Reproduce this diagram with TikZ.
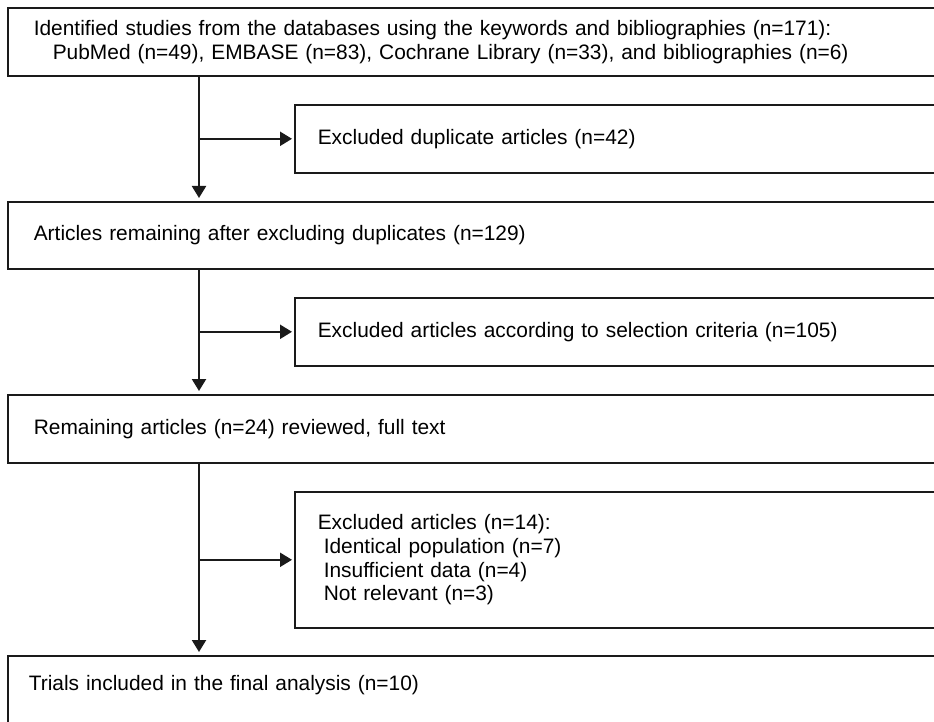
\documentclass[tikz,border=0pt]{standalone}
\usepackage{fontspec}
\setmainfont{Liberation Sans}
\usetikzlibrary{arrows.meta,positioning}
\definecolor{Ink}{HTML}{1A1A1A}
\tikzset{
  stagebox/.style={draw=Ink,line width=1.6pt,anchor=north west,align=left,inner xsep=26pt,text width=886pt,minimum height=68pt,font=\fontsize{20.9}{23.7}\selectfont},
  exclbox/.style={stagebox,inner xsep=23pt,text width=605pt},
  flowline/.style={draw=Ink,line width=2.2pt},
  arrow/.style={flowline,-{Triangle[length=12pt,width=14pt]},shorten >=3pt}
}

\begin{document}
\begin{tikzpicture}[x=1pt,y=-1pt]
  \useasboundingbox (0,0) rectangle (934,722);
  \clip (0,0) rectangle (934,722);
  \coordinate (trunk) at (199,0);
  % stages
  \node[stagebox] (ident) at (7,7) {Identified studies from the databases using the keywords and bibliographies (n=171):\\\hspace*{19pt}PubMed (n=49), EMBASE (n=83), Cochrane Library (n=33), and bibliographies (n=6)};
  \node[stagebox,minimum height=67pt] (remain) at (7,201) {Articles remaining after excluding duplicates (n=129)};
  \node[stagebox] (full) at (7,394) {Remaining articles (n=24) reviewed, full text};
  \node[stagebox,inner xsep=21pt,text width=896pt,text height=25pt,text depth=30pt,inner ysep=10pt] (final) at (7,655) {Trials included in the final analysis (n=10)};
  % exclusions
  \node[exclbox] (dupl) at (294,104) {Excluded duplicate articles (n=42)};
  \node[exclbox] (crit) at (294,297) {Excluded articles according to selection criteria (n=105)};
  \node[exclbox,minimum height=136pt] (excl) at (294,491) {Excluded articles (n=14):\\\hspace*{6pt}Identical population (n=7)\\\hspace*{6pt}Insufficient data (n=4)\\\hspace*{6pt}Not relevant (n=3)};
  % connectors
  \draw[arrow] (ident.south -| trunk) -- (remain.north -| trunk);
  \draw[arrow] (remain.south -| trunk) -- (full.north -| trunk);
  \draw[arrow] (full.south -| trunk) -- (final.north -| trunk);
  \draw[arrow,shorten >=2pt] (dupl.west -| trunk) -- (dupl.west);
  \draw[arrow,shorten >=2pt] (crit.west -| trunk) -- (crit.west);
  \draw[arrow,shorten >=2pt] (excl.west -| trunk) -- (excl.west);
\end{tikzpicture}
\end{document}
